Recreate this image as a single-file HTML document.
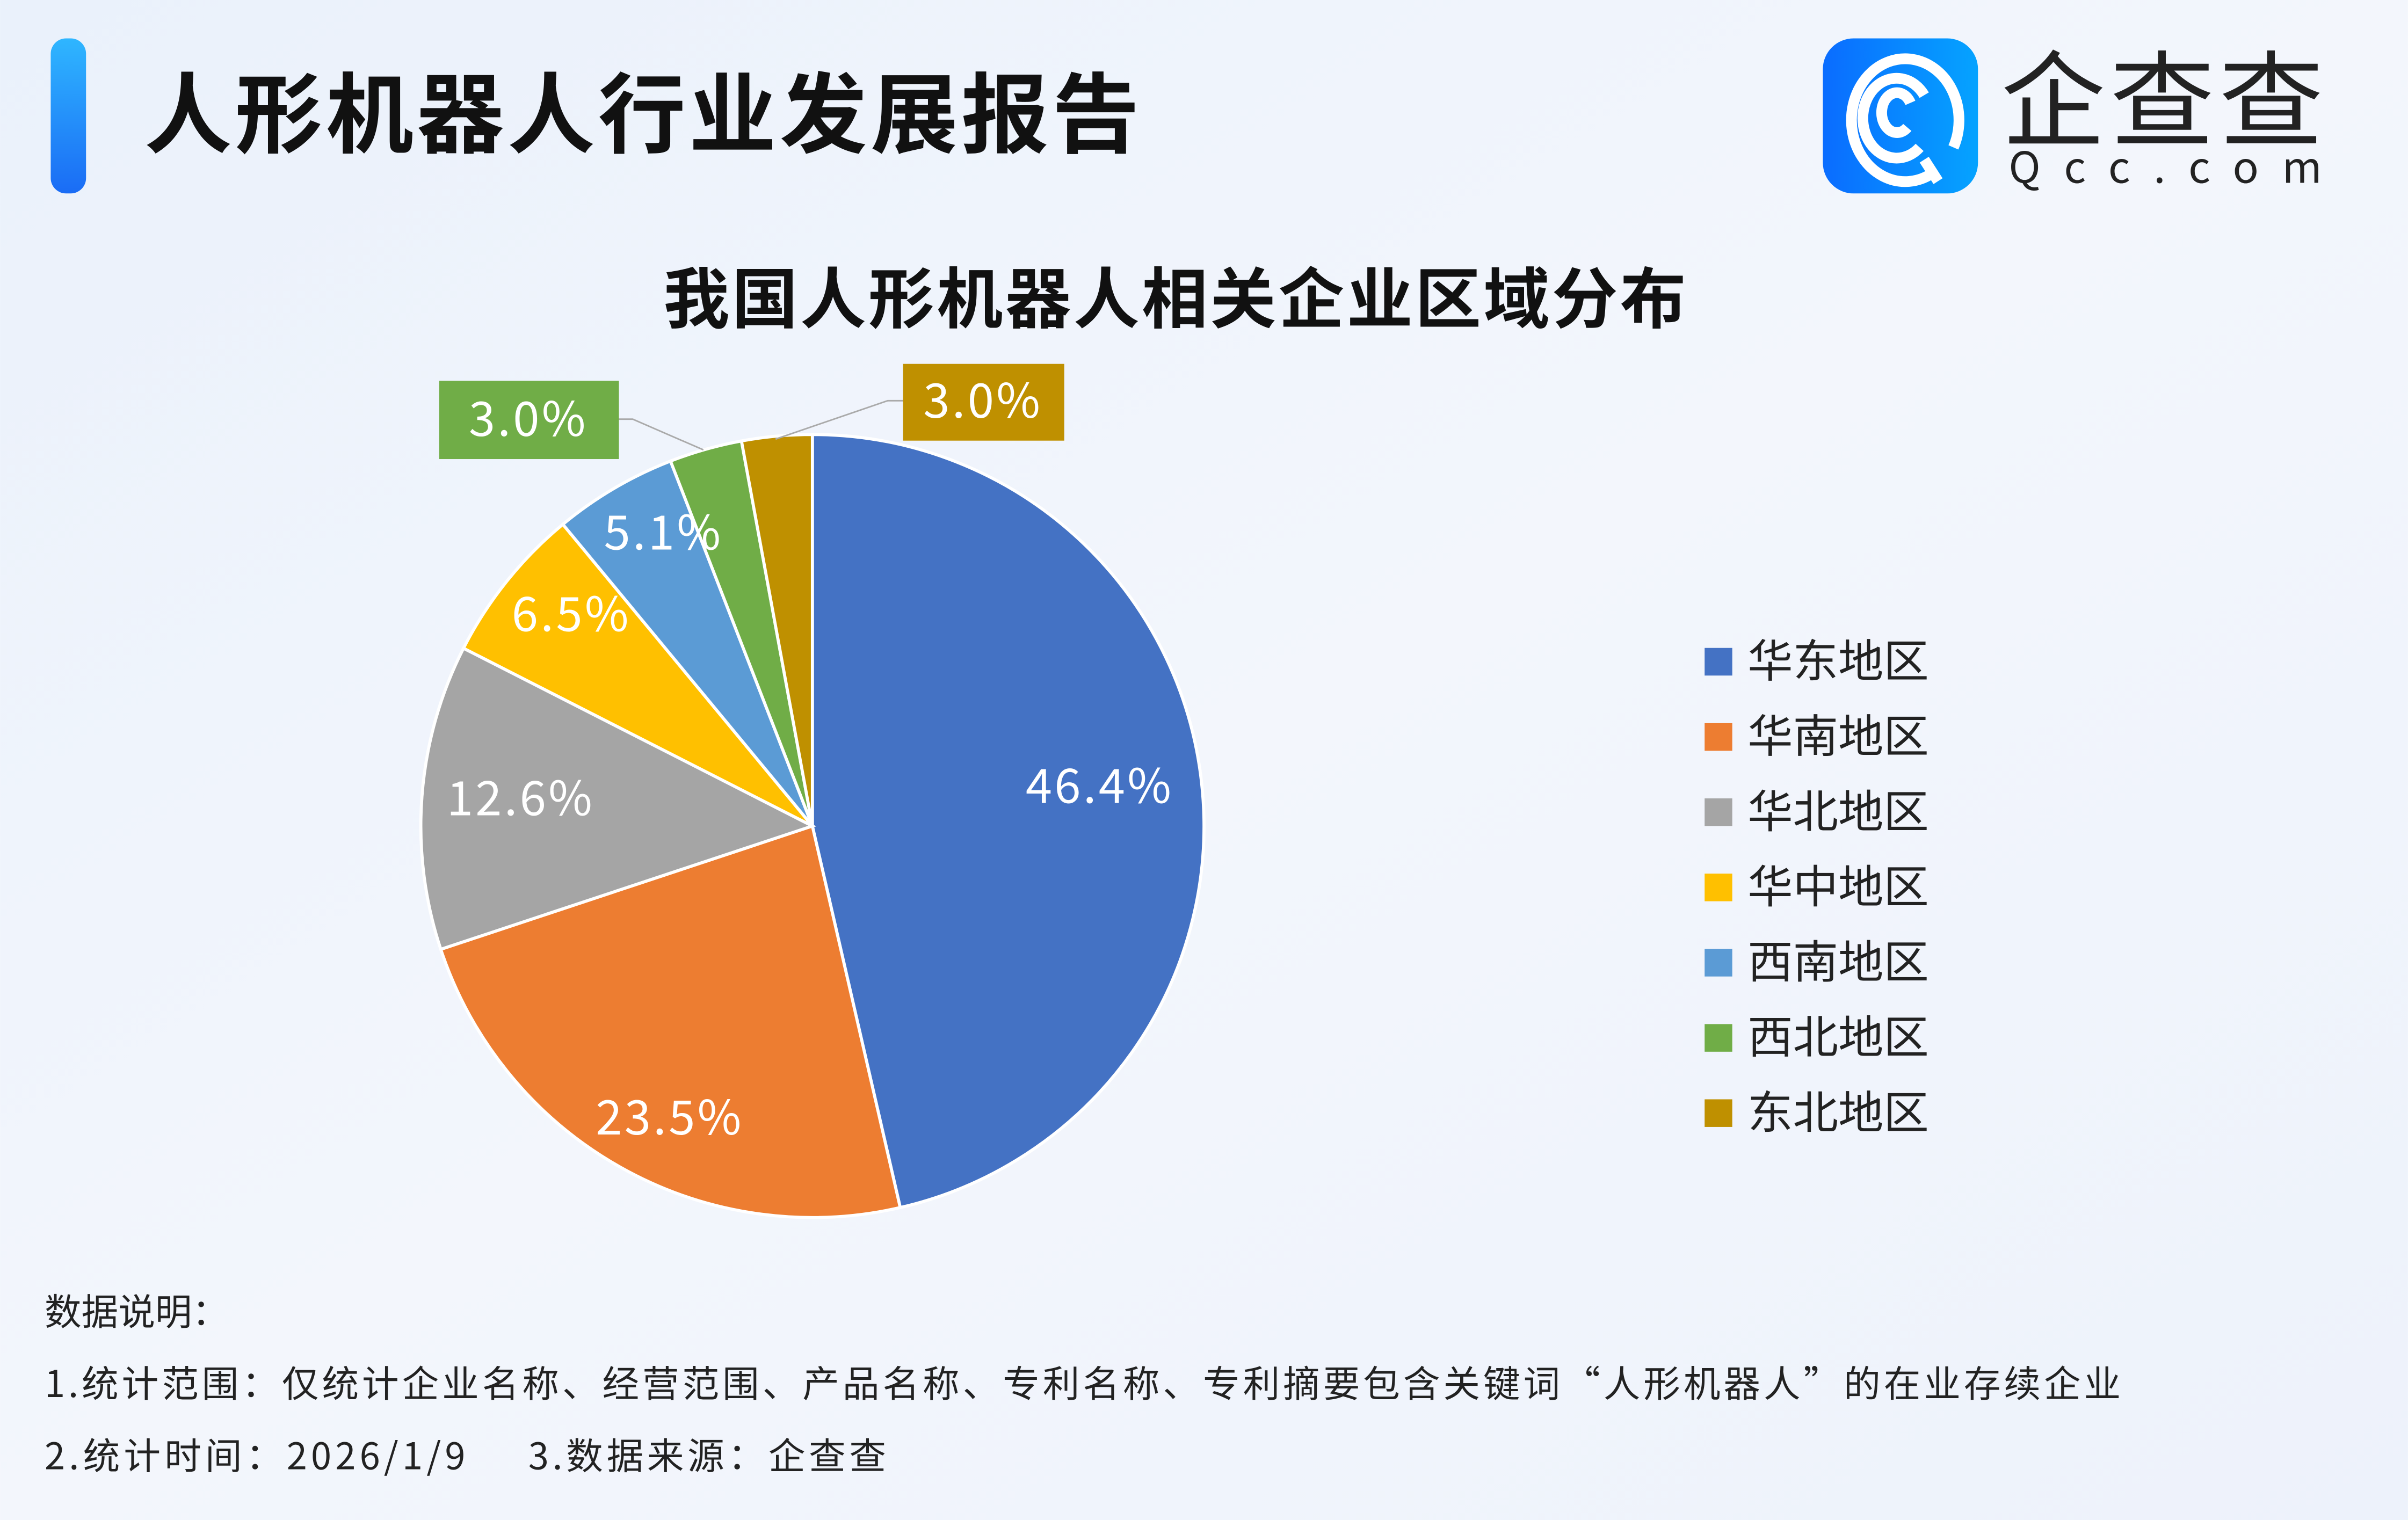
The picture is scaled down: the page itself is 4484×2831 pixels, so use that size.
<!DOCTYPE html>
<html><head><meta charset="utf-8"><style>
html,body{margin:0;padding:0;}
body{width:4484px;height:2831px;overflow:hidden;}
svg{display:block;}
text{font-family:"Noto Sans CJK SC","Liberation Sans",sans-serif;}
</style></head><body>
<svg width="4484" height="2831" viewBox="0 0 1568 990" xmlns="http://www.w3.org/2000/svg">
<defs>
<linearGradient id="bg" x1="0" y1="0" x2="1" y2="1">
<stop offset="0" stop-color="#eaf1fb"/><stop offset="0.5" stop-color="#f3f6fc"/><stop offset="1" stop-color="#edf2fb"/>
</linearGradient>
<linearGradient id="bar" x1="0" y1="0" x2="0" y2="1">
<stop offset="0" stop-color="#2fb6ff"/><stop offset="1" stop-color="#1a6cf5"/>
</linearGradient>
<linearGradient id="logo" x1="0" y1="0" x2="1" y2="0">
<stop offset="0" stop-color="#0a6cff"/><stop offset="1" stop-color="#05a3ff"/>
</linearGradient>
</defs>
<rect width="1568" height="990" fill="url(#bg)"/>
<rect x="33" y="25" width="23" height="101" rx="10" fill="url(#bar)"/>
<text x="94" y="95" font-size="57" font-weight="bold" fill="#111" textLength="648" lengthAdjust="spacing">人形机器人行业发展报告</text>
<rect x="1187" y="25" width="101" height="101" rx="20" fill="url(#logo)"/>
<g fill="none" stroke="#fff" stroke-width="7" stroke-linecap="butt">
<path d="M1258 113 A35 40 0 1 1 1272 96"/>
<path d="M1250 96 A22 26 0 1 1 1253 62"/>
<path d="M1242 83 A10 13 0 1 1 1244 67"/>
<path d="M1253 104 L1262 118"/>
</g>
<text x="1303" y="90" font-size="68" fill="#222" textLength="210" lengthAdjust="spacing">企查查</text>
<text x="1308" y="119" font-size="28" fill="#222" textLength="204" lengthAdjust="spacing">Qcc.com</text>
<text x="765" y="210" font-size="43" font-weight="bold" fill="#111" text-anchor="middle" textLength="666" lengthAdjust="spacing">我国人形机器人相关企业区域分布</text>
<g stroke="#fff" stroke-width="2">
<path d="M529 538 L529 283 A255 255 0 0 1 586.2 786.5 Z" fill="#4472C4"/>
<path d="M529 538 L586.2 786.5 A255 255 0 0 1 287.0 618.3 Z" fill="#ED7D31"/>
<path d="M529 538 L287.0 618.3 A255 255 0 0 1 301.8 422.2 Z" fill="#A5A5A5"/>
<path d="M529 538 L301.8 422.2 A255 255 0 0 1 366.5 341.5 Z" fill="#FFC000"/>
<path d="M529 538 L366.5 341.5 A255 255 0 0 1 436.6 300.3 Z" fill="#5B9BD5"/>
<path d="M529 538 L436.6 300.3 A255 255 0 0 1 482.8 287.2 Z" fill="#70AD47"/>
<path d="M529 538 L482.8 287.2 A255 255 0 0 1 529 283 Z" fill="#BF9000"/>
</g>
<g font-size="31" fill="#fff" text-anchor="middle" letter-spacing="1.5">
<text x="716" y="523">46.4%</text>
<text x="436" y="739">23.5%</text>
<text x="339" y="531">12.6%</text>
<text x="372" y="411">6.5%</text>
<text x="432" y="358">5.1%</text>
</g>
<polyline points="403,273 412,273 458,293" fill="none" stroke="#aaa" stroke-width="1"/>
<polyline points="588,261 578,261 505,286" fill="none" stroke="#aaa" stroke-width="1"/>
<rect x="286" y="248" width="117" height="51" fill="#70AD47"/>
<text x="344" y="284" font-size="31" fill="#fff" text-anchor="middle" letter-spacing="1.5">3.0%</text>
<rect x="588" y="237" width="105" height="50" fill="#BF9000"/>
<text x="640" y="272" font-size="31" fill="#fff" text-anchor="middle" letter-spacing="1.5">3.0%</text>
<g font-size="29.5" fill="#222">
<rect x="1110" y="422" width="18" height="18" fill="#4472C4"/><text x="1138" y="441">华东地区</text>
<rect x="1110" y="471" width="18" height="18" fill="#ED7D31"/><text x="1138" y="490">华南地区</text>
<rect x="1110" y="520" width="18" height="18" fill="#A5A5A5"/><text x="1138" y="539">华北地区</text>
<rect x="1110" y="569" width="18" height="18" fill="#FFC000"/><text x="1138" y="588">华中地区</text>
<rect x="1110" y="618" width="18" height="18" fill="#5B9BD5"/><text x="1138" y="637">西南地区</text>
<rect x="1110" y="667" width="18" height="18" fill="#70AD47"/><text x="1138" y="686">西北地区</text>
<rect x="1110" y="716" width="18" height="18" fill="#BF9000"/><text x="1138" y="735">东北地区</text>
</g>
<g font-size="24" fill="#222">
<text x="29" y="863">数据说明：</text>
<text x="29" y="910" textLength="1352" lengthAdjust="spacing">1.统计范围：仅统计企业名称、经营范围、产品名称、专利名称、专利摘要包含关键词“人形机器人”的在业存续企业</text>
<text x="29" y="957" textLength="274" lengthAdjust="spacing">2.统计时间：2026/1/9</text>
<text x="344" y="957" textLength="233" lengthAdjust="spacing">3.数据来源：企查查</text>
</g>
</svg>
</body></html>
